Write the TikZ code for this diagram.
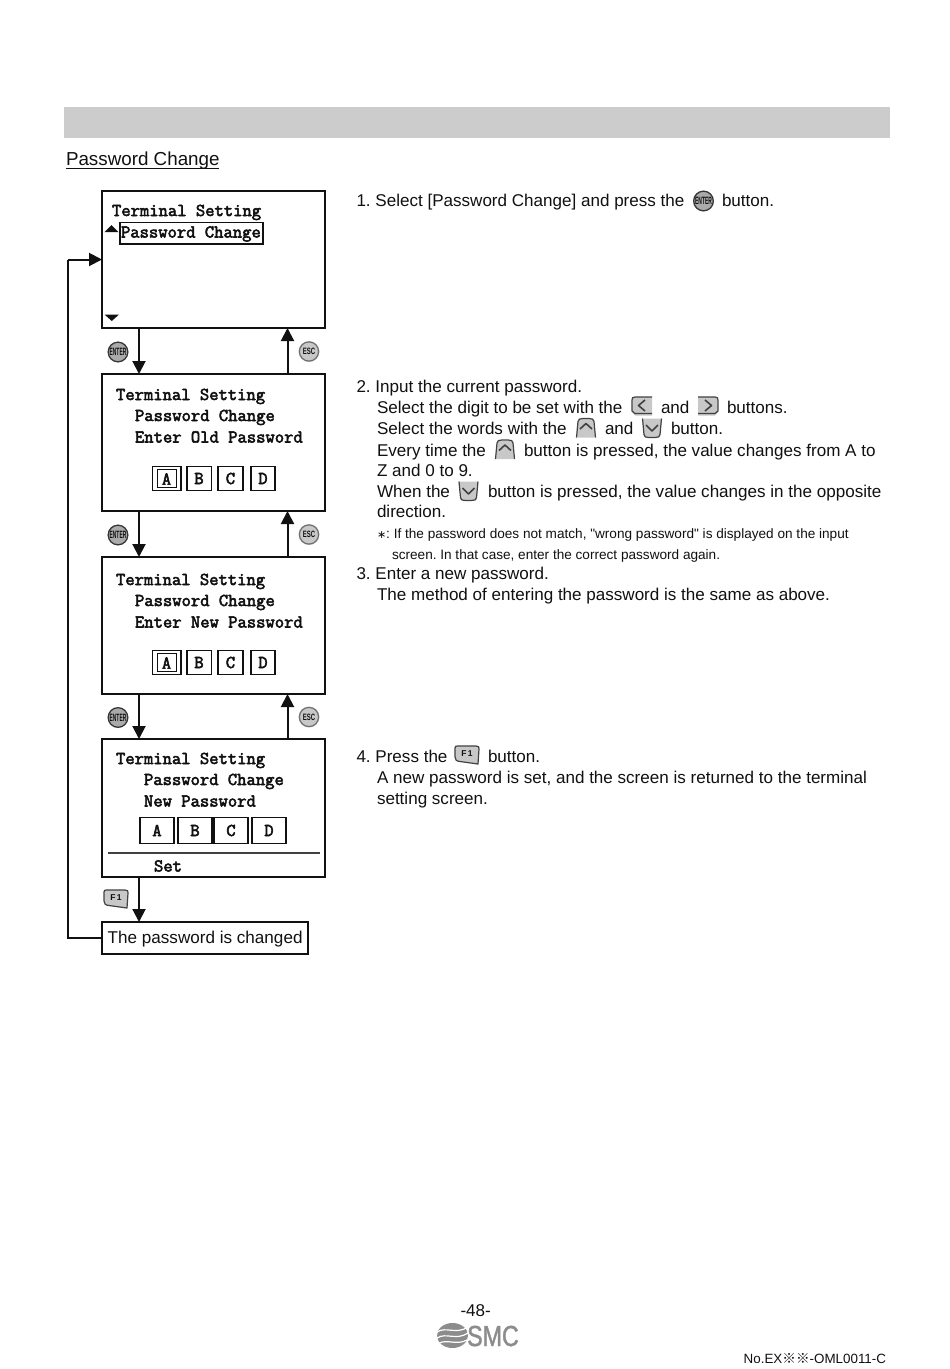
\documentclass[tikz,border=0pt]{standalone}
\usepackage{fontspec}
\setmainfont{Liberation Sans}
\newfontfamily\notefont{Liberation Sans}
\newfontfamily\lcdfont[FakeBold=3]{Latin Modern Mono}
\newfontfamily\logofont[FakeBold=1.5]{Liberation Sans}
\newfontfamily\cjkfont{Noto Sans CJK JP}
\newfontfamily\symfont{DejaVu Sans}
\usetikzlibrary{arrows.meta,calc}
\definecolor{ink}{HTML}{111111}
\definecolor{keygray}{HTML}{C8C8C8}
\definecolor{logogray}{HTML}{8C8C8C}
\tikzset{
  x=1pt,y=-1pt,
  body/.style={anchor=base west,inner sep=0pt,outer sep=0pt,text=ink,font=\fontsize{17.05}{20}\selectfont},
  small/.style={anchor=base west,inner sep=0pt,outer sep=0pt,text=ink,font=\fontsize{13.6}{16}\selectfont},
  lcd/.style={anchor=base west,inner sep=0pt,outer sep=0pt,text=ink,font=\fontsize{18.1}{20}\lcdfont},
  letter/.style={anchor=center,inner sep=0pt,outer sep=0pt,text=ink,font=\fontsize{18.1}{20}\lcdfont},
  screen/.style={draw=ink,line width=1.6pt,minimum width=223pt,minimum height=137pt,inner sep=0pt,outer sep=0pt,anchor=north west,fill=white},
  cell/.style={draw=ink,line width=1.5pt,fill=white},
  flow/.style={draw=ink,line width=2pt,-{Triangle[width=13pt,length=13pt]}},
  loopline/.style={draw=ink,line width=2pt},
  tri/.style={fill=ink,draw=none},
  keyline/.style={draw=ink!80,line width=1.2pt,line join=round},
  pics/enterkey/.style={code={
    \fill[keygray!85!black] (0,0) circle[radius=10.5];
    \draw[ink!85,line width=1.2pt] (0,0) circle[radius=9.8];
    \node[inner sep=0pt,text=ink] (-tx) at (0,0) {\fontsize{8.5}{9}\selectfont\bfseries\scalebox{0.58}[1.25]{ENTER}};
  }},
  pics/esckey/.style={code={
    \fill[keygray] (0,0) circle[radius=10.5];
    \draw[ink!60,line width=1.2pt] (0,0) circle[radius=9.6];
    \node[inner sep=0pt,text=ink] (-tx) at (0,0) {\fontsize{8}{9}\selectfont\bfseries\scalebox{0.75}[1.15]{ESC}};
  }},
  pics/leftkey/.style={code={
    \fill[keygray] (-9.5,-9) -- (10,-9) -- (10,9.5) -- (-7,9.5) -- (-10,6) -- cycle;
    \draw[keyline] (10,-9) -- (-7,-9) .. controls (-9.5,-9) and (-10,-8) .. (-10,-6) -- (-10,5) -- (-7,7.5) -- (10,7.5);
    \draw[keyline,line width=1.6pt] (3,-6) -- (-3.5,-0.5) -- (3,5);
  }},
  pics/rightkey/.style={code={
    \fill[keygray] (-10,-9) -- (9.5,-9) -- (10,6) -- (7,9.5) -- (-10,9.5) -- cycle;
    \draw[keyline] (-10,-9) -- (7,-9) .. controls (9.5,-9) and (10,-8) .. (10,-6) -- (10,5) -- (7,7.5) -- (-10,7.5);
    \draw[keyline,line width=1.6pt] (-3,-6) -- (3.5,-0.5) -- (-3,5);
  }},
  pics/upkey/.style={code={
    \fill[keygray] (-9.5,9.5) -- (-7.5,-9) -- (7.5,-9) -- (9.5,9.5) -- cycle;
    \draw[keyline] (-9.5,9.5) -- (-8,-6.5) .. controls (-7.8,-9) and (-6,-9.5) .. (-3,-9.5) -- (3,-9.5) .. controls (6,-9.5) and (7.8,-9) .. (8,-6.5) -- (9.5,9.5);
    \draw[keyline,line width=1.6pt] (-6,1) -- (0,-4.5) -- (6,1);
  }},
  pics/downkey/.style={code={
    \fill[keygray] (-9.5,-9.5) -- (9.5,-9.5) -- (8,9) -- (-8,9) -- cycle;
    \draw[keyline] (-9.5,-9.5) -- (-8,6.5) .. controls (-7.8,9) and (-6,9.5) .. (-3,9.5) -- (3,9.5) .. controls (6,9.5) and (7.8,9) .. (8,6.5) -- (9.5,-9.5);
    \draw[keyline,line width=1.6pt] (-6,-3) -- (0,3) -- (6,-3);
  }},
  pics/fonekey/.style={code={
    \fill[keygray] (-12,-9) -- (10,-9) .. controls (12,-9) and (12,-8) .. (12,-6) -- (11,9) -- (-7,6.5) .. controls (-11,6) and (-11.5,5) .. (-12,2) -- cycle;
    \draw[keyline] (-12,-7) .. controls (-12,-9) and (-11,-9) .. (-9,-9) -- (9,-9) .. controls (12,-9) and (12,-8) .. (12,-6) -- (11,9) -- (-7,6.5) .. controls (-11,6) and (-11.5,5) .. (-12,2) -- cycle;
    \node[inner sep=0pt,text=ink] (-tx) at (0,-1.5) {\fontsize{8.5}{9}\selectfont\bfseries F\,1};
  }},
}
\newcommand{\refmark}{{\cjkfont\fontsize{13.6}{12}\selectfont ※}}
\newcommand{\cellchar}[1]{\raisebox{-1.5pt}{#1}\hspace{3pt}}
\begin{document}
\frenchspacing
\begin{tikzpicture}
\useasboundingbox (0,0) rectangle (950,1369);
\fill[white] (0,0) rectangle (950,1369);
\fill[black!20] (64,107) rectangle (890,138);
\node[body,font=\fontsize{18.8}{20}\selectfont] (heading) at (66,165.5) {Password Change};
\draw[ink,line width=1pt] (66,168.5) -- (219,168.5);

% screens
\node[screen] (s1) at (102,191) {};
\node[screen] (s2) at (102,374) {};
\node[screen] (s3) at (102,557) {};
\node[screen,minimum height=138pt] (s4) at (102,739) {};
\node[draw=ink,line width=1.6pt,minimum width=206pt,minimum height=32pt,inner sep=0pt,outer sep=0pt,anchor=north west] (done) at (102,922) {};
\node[anchor=base west,inner sep=0pt,text=ink,font=\fontsize{17.1}{20}\selectfont] (donetxt) at (107.5,943.5) {The password is changed};

% screen 1
\node[lcd] (t1a) at (112,216) {Terminal Setting};
\draw[ink,line width=1.5pt] (120,222.5) rectangle (263,244);
\node[lcd] (t1b) at (121,237.5) {Password Change};
\fill[tri] (104.5,232) -- (118.5,232) -- (111.5,225) -- cycle;
\fill[tri] (104.5,314.5) -- (119,314.5) -- (111.8,321) -- cycle;

% screen 2
\node[lcd] (t2a) at (116,400) {Terminal Setting};
\node[lcd] (t2b) at (135,421) {Password Change};
\node[lcd] (t2c) at (135,442.5) {Enter Old Password};
\draw[cell] (152.5,466.5) rectangle (181,490.5);
\draw[cell] (157.5,469.5) rectangle (176.5,487.5);
\node[letter] (a2) at (166.5,479) {A};
\node[cell,minimum width=24.5pt,minimum height=24pt,inner sep=0pt,text=ink,font=\fontsize{18.1}{20}\lcdfont] (b2) at (199,478.5) {B};
\node[cell,minimum width=25pt,minimum height=24pt,inner sep=0pt,text=ink,font=\fontsize{18.1}{20}\lcdfont] (c2) at (230.5,478.5) {C};
\node[cell,minimum width=24pt,minimum height=24pt,inner sep=0pt,text=ink,font=\fontsize{18.1}{20}\lcdfont] (d2) at (263,478.5) {D};

% screen 3
\node[lcd] (t3a) at (116,585) {Terminal Setting};
\node[lcd] (t3b) at (135,606) {Password Change};
\node[lcd] (t3c) at (135,627.5) {Enter New Password};
\draw[cell] (152.5,650.5) rectangle (181,674.5);
\draw[cell] (157.5,653.5) rectangle (176.5,671.5);
\node[letter] (a3) at (166.5,663) {A};
\node[cell,minimum width=24.5pt,minimum height=24pt,inner sep=0pt,text=ink,font=\fontsize{18.1}{20}\lcdfont] (b3) at (199,662.5) {B};
\node[cell,minimum width=25pt,minimum height=24pt,inner sep=0pt,text=ink,font=\fontsize{18.1}{20}\lcdfont] (c3) at (230.5,662.5) {C};
\node[cell,minimum width=24pt,minimum height=24pt,inner sep=0pt,text=ink,font=\fontsize{18.1}{20}\lcdfont] (d3) at (263,662.5) {D};

% screen 4
\node[lcd] (t4a) at (116,764) {Terminal Setting};
\node[lcd] (t4b) at (144,785) {Password Change};
\node[lcd] (t4c) at (144,806.5) {New Password};
\node[cell,minimum width=34pt,minimum height=26pt,inner sep=0pt,text=ink,font=\fontsize{18.1}{20}\lcdfont] (a4) at (157,830.5) {\cellchar{A}};
\node[cell,minimum width=34pt,minimum height=26pt,inner sep=0pt,text=ink,font=\fontsize{18.1}{20}\lcdfont] (b4) at (195,830.5) {\cellchar{B}};
\node[cell,minimum width=34pt,minimum height=26pt,inner sep=0pt,text=ink,font=\fontsize{18.1}{20}\lcdfont] (c4) at (231,830.5) {\cellchar{C}};
\node[cell,minimum width=34pt,minimum height=26pt,inner sep=0pt,text=ink,font=\fontsize{18.1}{20}\lcdfont] (d4) at (269,830.5) {\cellchar{D}};
\draw[ink!80,line width=1.2pt] (108,853) -- (320,853);
\node[lcd] (t4d) at (154,871.5) {Set};

% connectors
\draw[flow] ([xshift=37pt]s1.south west) -- ([xshift=37pt]s2.north west);
\draw[flow] ([xshift=185.5pt]s2.north west) -- ([xshift=185.5pt]s1.south west);
\draw[flow] ([xshift=37pt]s2.south west) -- ([xshift=37pt]s3.north west);
\draw[flow] ([xshift=185.5pt]s3.north west) -- ([xshift=185.5pt]s2.south west);
\draw[flow] ([xshift=37pt]s3.south west) -- ([xshift=37pt]s4.north west);
\draw[flow] ([xshift=185.5pt]s4.north west) -- ([xshift=185.5pt]s3.south west);
\draw[flow] ([xshift=37pt]s4.south west) -- ([xshift=37pt]done.north west);
\coordinate (loopcorner) at (68,259.5);
\draw[loopline] (done.west) -| (loopcorner);
\draw[flow] (loopcorner) -- (s1.west);

% diagram keys
\pic (k1) at (118,352) {enterkey};
\pic (k2) at (118,535) {enterkey};
\pic (k3) at (118,717.5) {enterkey};
\pic (k4) at (309,351.5) {esckey};
\pic (k5) at (309,534.5) {esckey};
\pic (k6) at (309,717) {esckey};
\pic (k7) at (116,899) {fonekey};

% text
\node[body] (l1) at (356.5,206.5) {1. Select [Password Change] and press the};
\pic (i1) at (703.5,201) {enterkey};
\node[body] (l1b) at (722,206.5) {button.};

\node[body] (l2) at (356.5,392) {2. Input the current password.};
\node[body] (l3) at (377,413) {Select the digit to be set with the};
\pic (i2) at (642,406) {leftkey};
\node[body] (l3b) at (661,413) {and};
\pic (i3) at (708,406) {rightkey};
\node[body] (l3c) at (727,413) {buttons.};
\node[body] (l4) at (377,434.5) {Select the words with the};
\pic (i4) at (586,428) {upkey};
\node[body] (l4b) at (605,434.5) {and};
\pic (i5) at (652,428) {downkey};
\node[body] (l4c) at (671,434.5) {button.};
\node[body] (l5) at (377,456) {Every time the};
\pic (i6) at (505,449.5) {upkey};
\node[body] (l5b) at (524,456) {button is pressed, the value changes from A to};
\node[body] (l6) at (377,476.5) {Z and 0 to 9.};
\node[body] (l7) at (377,497) {When the};
\pic (i7) at (468.5,491) {downkey};
\node[body] (l7b) at (488,497) {button is pressed, the value changes in the opposite};
\node[body] (l8) at (377,517) {direction.};
\node[small] (n1) at (377,538) {{\symfont\fontsize{11}{12}\selectfont ∗}{\notefont: If the password does not match, "wrong password" is displayed on the input}};
\node[small] (n2) at (392,559) {screen. In that case, enter the correct password again.};
\node[body] (l9) at (356.5,579) {3. Enter a new password.};
\node[body] (l10) at (377,600) {The method of entering the password is the same as above.};
\node[body] (l11) at (356.5,762.5) {4. Press the};
\pic (i8) at (467,755) {fonekey};
\node[body] (l11b) at (488,762.5) {button.};
\node[body] (l12) at (377,783) {A new password is set, and the screen is returned to the terminal};
\node[body] (l13) at (377,804) {setting screen.};

% footer
\node[body] (pg) at (460.5,1316) {-48-};
\begin{scope}
\fill[logogray] (452.5,1335.5) ellipse[x radius=15.5,y radius=12.5];
\draw[white,line width=1.2pt] (437,1332) .. controls (446,1326) and (456,1335) .. (468,1327);
\draw[white,line width=1.2pt] (437,1338) .. controls (446,1332) and (456,1341) .. (468,1333);
\draw[white,line width=1.2pt] (438,1344) .. controls (446,1338) and (456,1346) .. (467,1340);
\end{scope}
\node[anchor=base west,inner sep=0pt,text=logogray,font=\fontsize{29}{30}\logofont] (logo) at (467,1346) {\scalebox{0.8}[1]{SMC}};
\node[anchor=base west,inner sep=0pt,text=ink,font=\fontsize{13.4}{15}\selectfont] (docno) at (743.5,1363) {No.EX\refmark\refmark-OML0011-C};
\end{tikzpicture}
\end{document}
